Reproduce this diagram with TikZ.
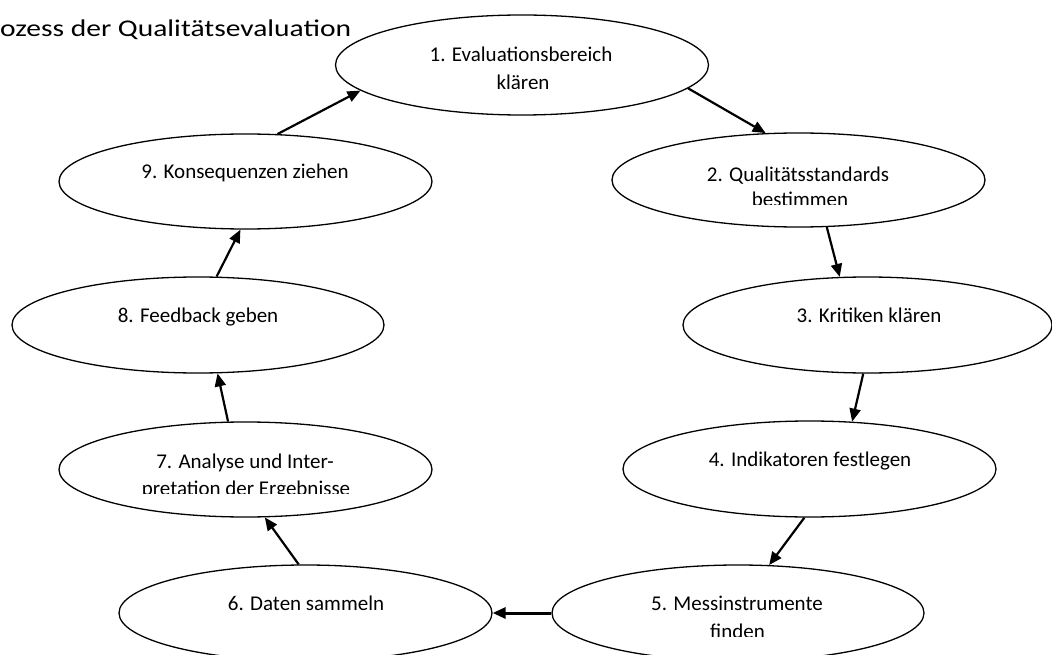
\documentclass[tikz,border=0pt]{standalone}
\usepackage{fontspec}
\usepackage{graphicx}
\setmainfont{Carlito}
\usetikzlibrary{shapes.geometric,arrows.meta}
\begin{document}
\begin{tikzpicture}[x=1pt,y=-1pt,
  stage/.style={draw, ellipse, line width=1.3pt, minimum width=373pt, minimum height=96pt, inner sep=0pt},
  lbl/.style={anchor=base, inner sep=0pt, font=\fontsize{21}{26}\selectfont},
  flow/.style={-{Triangle[length=13pt,width=11pt]}, line width=2.2pt}
]
\useasboundingbox (0,0) rectangle (1052,655);

\node[anchor=base west, inner sep=0pt, font=\fontsize{24}{29}\selectfont] (title) at (0,37) {\scalebox{1.23}[1]{ozess der Qualitätsevaluation}};

% ellipses
\node[stage, minimum height=100pt] (e1) at (522,65) {};
\node[stage, minimum height=94pt] (e2) at (798.5,180) {};
\node[stage, minimum width=369pt] (e3) at (867.5,325) {};
\node[stage] (e4) at (809.5,469) {};
\node[stage, minimum width=372pt] (e5) at (738,613) {};
\node[stage] (e6) at (305.5,613) {};
\node[stage, minimum height=95pt] (e7) at (245.5,469.5) {};
\node[stage, minimum width=372pt] (e8) at (198,325) {};
\node[stage, minimum height=95pt] (e9) at (245.5,181.5) {};

% texts
\node[lbl] (t1a) at (521,62) {1. Evaluationsbereich};
\begin{scope}
  \clip (400,60) rectangle (650,88.5);
  \node[lbl] (t1b) at (523,90) {klären};
\end{scope}
\node[lbl] (t2a) at (798,182) {2. Qualitätsstandards};
\begin{scope}
  \clip (700,185) rectangle (900,205);
  \node[lbl] (t2b) at (800,206.5) {bestimmen};
\end{scope}
\node[lbl] (t3) at (869,322) {3. Kritiken klären};
\node[lbl] (t4) at (810,466) {4. Indikatoren festlegen};
\node[lbl] (t5a) at (737,610) {5. Messinstrumente};
\begin{scope}
  \clip (650,613) rectangle (830,636.5);
  \node[lbl] (t5b) at (737.5,638) {finden};
\end{scope}
\node[lbl] (t6) at (306,610) {6. Daten sammeln};
\node[lbl] (t7a) at (245,468) {7. Analyse und Inter-};
\begin{scope}
  \clip (100,470) rectangle (400,493.5);
  \node[lbl] (t7b) at (246,495) {pretation der Ergebnisse};
\end{scope}
\node[lbl] (t8) at (198,322) {8. Feedback geben};
\node[lbl] (t9) at (245,178.5) {9. Konsequenzen ziehen};

% connectors
\draw[flow] (e9.56) -- (e1.189);
\draw[flow] (e1.-8) -- (e2.125);
\draw[flow] (e2.-59) -- (e3.120);
\draw[flow] (e3.265) -- (e4.48);
\draw[flow] (e4.264) -- (e5.57);
\draw[flow, line width=3pt] (e5.west) -- (e6.east);
\draw[flow] (e6.98) -- (e7.-68);
\draw[flow] (e7.110) -- (e8.-68);
\draw[flow] (e8.69) -- (e9.-96);
\end{tikzpicture}
\end{document}
